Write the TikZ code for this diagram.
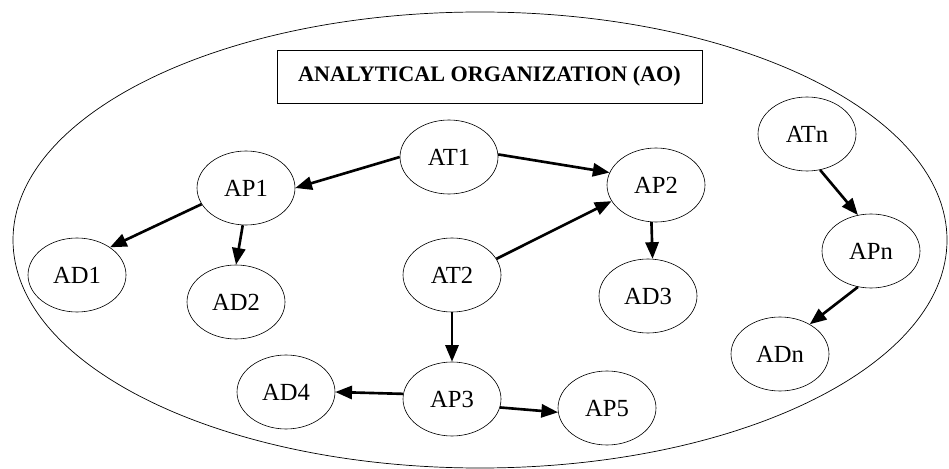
\documentclass[tikz,border=0pt]{standalone}
\usepackage{fontspec}
\setmainfont{Liberation Serif}
\usetikzlibrary{arrows.meta,shapes.geometric}

\begin{document}
\begin{tikzpicture}
        [x=0.02cm,y=-0.02cm]
            \tikzstyle{every node}=[ellipse, draw, line width=0.35pt, fill=white,
        minimum width=1.96cm, minimum height=1.48cm, inner sep=0pt,
        font=\fontsize{14}{16}\selectfont]
            \tikzstyle{link}=[line width=1.5pt, -{Triangle[length=9.5pt,width=7.5pt]}]
         \useasboundingbox (0,0) rectangle (949,469);
         \draw[line width=0.4pt] (480,240) ellipse (467 and 228);

        %-----title
         \node[rectangle, minimum width=8.5cm, minimum height=1.06cm, line width=0.4pt,
               font=\fontsize{12.6}{14}\selectfont\bfseries]
               (AO) at (489.5,76.5) {ANALYTICAL ORGANIZATION (AO)};

        %-----tasks, processes, data
         \node (AT1) at (449,157) {AT1};
         \node (AP1) at (246,188) {AP1};
         \node (AP2) at (656,185) {AP2};
         \node (AD1) at (77,275)  {AD1};
         \node (AD2) at (236,302) {AD2};
         \node (AT2) at (452,275) {AT2};
         \node (AD3) at (648,296) {AD3};
         \node (AD4) at (286,392) {AD4};
         \node (AP3) at (452,399) {AP3};
         \node (AP5) at (607,408) {AP5};
        %-----n
         \node (ATn) at (807,134) {ATn};
         \node (APn) at (871,251) {APn};
         \node (ADn) at (780,354) {ADn};

         \foreach \from/\to in {AT1.west/AP1.east,AT1.3/AP2.165,AP1.200/AD1.40,AP1.265/AD2.north,
           AT2.20/AP2.200,AP2.263/AD3.83,AT2.south/AP3.north,AP3.174/AD4.east,AP3.350/AP5.185,
           ATn.290/APn.110,APn.250/ADn.45}
         \draw[link] (\from) -- (\to);

        \end{tikzpicture}
\end{document}
